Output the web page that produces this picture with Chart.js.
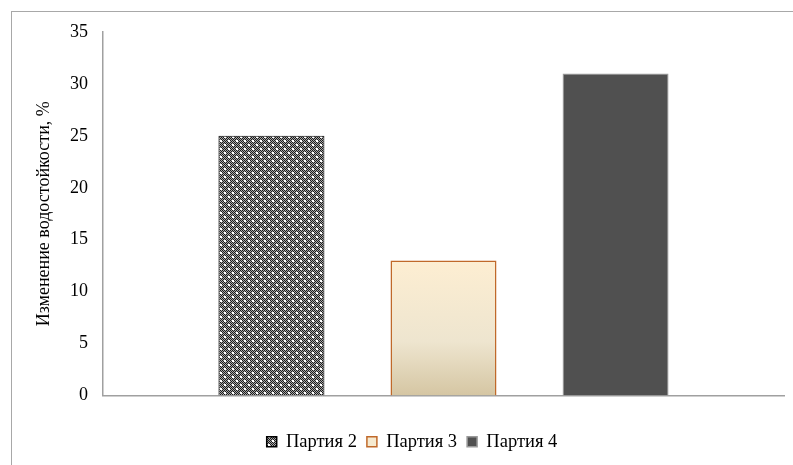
<!DOCTYPE html>
<html>
<head>
<meta charset="utf-8">
<script src="https://cdn.jsdelivr.net/npm/chart.js@4/dist/chart.umd.min.js"></script>
<style>
  html, body { margin: 0; padding: 0; background: #fff; overflow: hidden; }
  #wrap { position: relative; width: 793px; height: 465px; }
  #frame { position: absolute; left: 11px; top: 11px; width: 900px; height: 600px; border: 1px solid #a8a8a8; }
  canvas { position: absolute; left: 0; top: 0; }
</style>
</head>
<body>
<div id="wrap">
  <div id="frame"></div>
  <canvas id="chart" width="793" height="465"></canvas>
</div>
<script>
;(function () {
  const categories = ['']
  const seriesNames = ['Партия 2', 'Партия 3', 'Партия 4']
  const seriesValues = [25, 13, 31]
  const yTicks = [0, 5, 10, 15, 20, 25, 30, 35]
  const yTitle = 'Изменение водостойкости, %'

  const serif = '"Liberation Serif", "Times New Roman", serif'

  function makeDotPattern() {
    const c = document.createElement('canvas')
    c.width = 8
    c.height = 8
    const g = c.getContext('2d')
    for (let y = 0; y < 8; y++) {
      for (let x = 0; x < 8; x++) {
        g.fillStyle = (x + y) % 2 ? '#a8a8a8' : '#1a1a1a'
        g.fillRect(x, y, 1, 1)
      }
    }
    g.fillStyle = '#ffffff'
    g.fillRect(0, 0, 2, 2)
    g.fillRect(4, 4, 2, 2)
    return g.createPattern(c, 'repeat')
  }

  const ctx = document.getElementById('chart')
  const dotPattern = makeDotPattern()

  function creamGradient(context) {
    const chart = context.chart
    if (!chart.chartArea) return '#f3e6c8'
    const y = chart.scales.y
    const top = y.getPixelForValue(seriesValues[1])
    const bottom = y.getPixelForValue(0)
    const grad = chart.ctx.createLinearGradient(0, top, 0, bottom)
    grad.addColorStop(0, '#fdeed2')
    grad.addColorStop(0.6, '#eee5cf')
    grad.addColorStop(1, '#d5c6a3')
    return grad
  }

  const fills = [dotPattern, creamGradient, '#505050']
  const legendFills = [dotPattern, '#f6ead0', '#505050']
  const borders = ['#000000', '#c0692a', '#9a9a9a']
  const borderWidths = [1, 1.5, 1]

  // the legend in the picture sits a little right of centre
  const shiftLegend = {
    id: 'shiftLegend',
    afterUpdate(chart) {
      if (!chart.legend) return
      chart.legend.left += 20
      chart.legend.right += 20
    }
  }

  new Chart(ctx, {
    type: 'bar',
    data: {
      labels: categories,
      datasets: seriesNames.map((name, i) => ({
        label: name,
        data: [seriesValues[i]],
        backgroundColor: fills[i],
        borderColor: borders[i],
        borderWidth: borderWidths[i],
        categoryPercentage: 0.758,
        barPercentage: 0.616
      }))
    },
    plugins: [shiftLegend],
    options: {
      responsive: false,
      animation: false,
      layout: { padding: { top: 32, right: 9, bottom: 4, left: 0 } },
      plugins: {
        tooltip: { enabled: false },
        legend: {
          position: 'bottom',
          labels: {
            color: '#000',
            font: { family: serif, size: 18.5 },
            boxWidth: 10,
            boxHeight: 10,
            padding: 10,
            generateLabels(chart) {
              const items = Chart.defaults.plugins.legend.labels.generateLabels(chart)
              items.forEach((it, i) => {
                it.fillStyle = legendFills[i]
                it.lineWidth = 1.5
              })
              return items
            }
          }
        }
      },
      scales: {
        x: {
          grid: { display: false },
          ticks: { display: false },
          border: { color: '#a0a0a0', width: 1.5 },
          afterFit(scale) { scale.height = 27 }
        },
        y: {
          min: 0,
          max: 35,
          afterBuildTicks(scale) { scale.ticks = yTicks.map((v) => ({ value: v })) },
          grid: { display: false, drawTicks: false },
          border: { color: '#a0a0a0', width: 1.5 },
          ticks: { color: '#000', font: { family: serif, size: 18 }, padding: 15 },
          title: {
            display: true,
            text: yTitle,
            color: '#000',
            font: { family: serif, size: 18 },
            padding: { top: 33, bottom: 0 }
          },
          afterFit(scale) { scale.width = 103 }
        }
      }
    }
  })
})()
</script>
</body>
</html>
